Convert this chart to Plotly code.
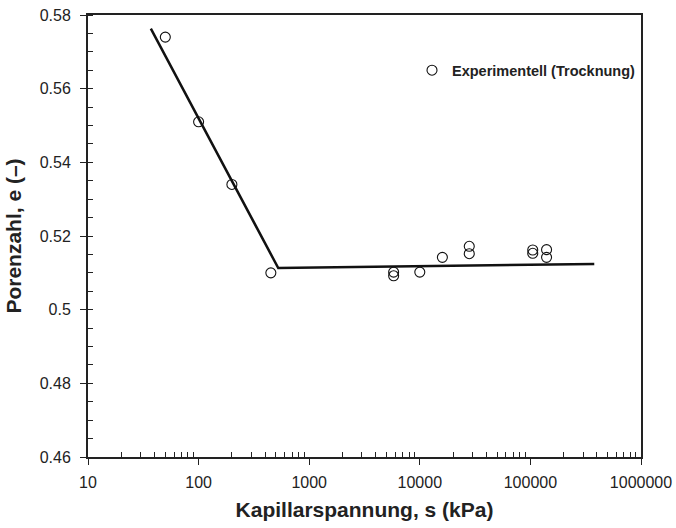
import plotly.graph_objects as go

# Experimental data (drying)
suction_kpa = [50, 100, 200, 450, 5800, 5800, 10000, 16000, 28000, 28000,
               105000, 105000, 140000, 140000]
void_ratio = [0.574, 0.551, 0.534, 0.510, 0.5102, 0.5092, 0.5102, 0.5142, 0.5172, 0.5152,
              0.5162, 0.5153, 0.5163, 0.5142]

# Bilinear fit line
fit_s = [37, 525, 378000]
fit_e = [0.5763, 0.5113, 0.5124]

x_tickvals = [10, 100, 1000, 10000, 100000, 1000000]
x_ticktext = ["10", "100", "1000", "10000", "100000", "1000000"]
y_tickvals = [0.46, 0.48, 0.5, 0.52, 0.54, 0.56, 0.58]
y_ticktext = ["0.46", "0.48", "0.5", "0.52", "0.54", "0.56", "0.58"]

minor_x = [m * 10 ** d for d in range(1, 6) for m in range(2, 10)]

fig = go.Figure()
fig.add_trace(go.Scatter(
    x=fit_s, y=fit_e, mode="lines",
    line=dict(color="#111111", width=2.5),
    showlegend=False, hoverinfo="skip"))
fig.add_trace(go.Scatter(
    x=suction_kpa, y=void_ratio, mode="markers",
    name="Experimentell (Trocknung)",
    marker=dict(symbol="circle-open", size=10, color="#111111",
                line=dict(width=1.1, color="#111111"))))

font_family = "Liberation Sans, Arial, sans-serif"

fig.update_layout(
    width=676, height=528,
    margin=dict(l=88, r=35, t=15, b=71),
    paper_bgcolor="white", plot_bgcolor="white",
    font=dict(family=font_family, color="#222222", size=16),
    legend=dict(x=1.0, xanchor="right", y=0.875, yanchor="middle",
                bgcolor="rgba(0,0,0,0)", itemwidth=30,
                font=dict(family=font_family, size=14.5, color="#222222",
                          weight="bold")),
    xaxis=dict(
        type="log", range=[1, 6], automargin=False,
        tickvals=x_tickvals, ticktext=x_ticktext,
        tickfont=dict(size=16, color="#222222"),
        ticklabelstandoff=4,
        ticks="outside", ticklen=6, tickwidth=1.2, tickcolor="#222222",
        showline=True, linewidth=2, linecolor="#222222", mirror=True,
        showgrid=False, zeroline=False,
        minor=dict(tickvals=minor_x, ticks="inside", ticklen=5,
                   tickwidth=1, tickcolor="#222222", showgrid=False),
        title=dict(text="<b>Kapillarspannung, s (kPa)</b>",
                   font=dict(size=21, color="#222222"), standoff=12),
    ),
    yaxis=dict(
        range=[0.46, 0.58], automargin=False,
        tickvals=y_tickvals, ticktext=y_ticktext,
        tickfont=dict(size=16, color="#222222"),
        ticklabelstandoff=6,
        ticks="outside", ticklen=6, tickwidth=1.2, tickcolor="#222222",
        showline=True, linewidth=2, linecolor="#222222", mirror=True,
        showgrid=False, zeroline=False,
        minor=dict(dtick=0.005, ticks="inside", ticklen=5,
                   tickwidth=1, tickcolor="#222222", showgrid=False),
        title=dict(text="<b>Porenzahl, e (–)</b>",
                   font=dict(size=21, color="#222222"), standoff=12),
    ),
)

fig.write_html("out.html")
